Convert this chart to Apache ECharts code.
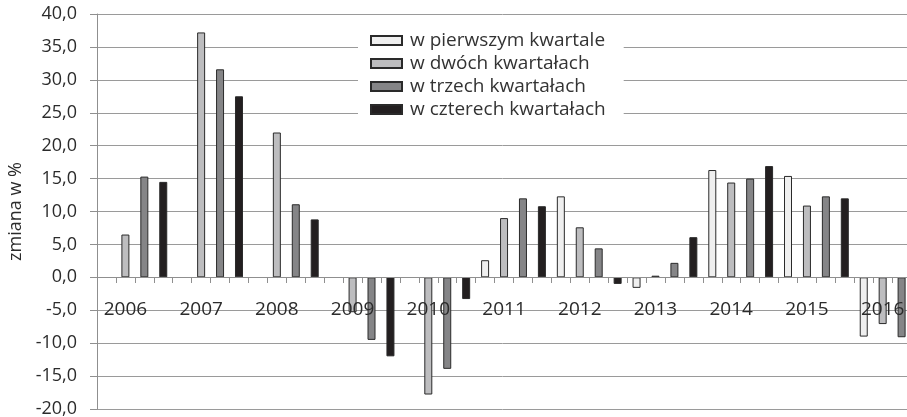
<!DOCTYPE html>
<html>
<head>
<meta charset="utf-8">
<script src="https://cdn.jsdelivr.net/npm/echarts@6/dist/echarts.min.js"></script>
<style>
  html, body { margin: 0; padding: 0; background: #fff; }
  #chart { width: 907px; height: 417px; }
</style>
</head>
<body>
<div id="chart"></div>
<script>
// lata (etykiety osi X), kazdy rok ma 4 pozycje kwartalne
const years = ['2006', '2007', '2008', '2009', '2010', '2011', '2012', '2013', '2014', '2015', '2016'];

// zmiana w % (null = brak slupka)
const inFirstQuarter = [null, null, null, null, null, 2.6, 12.3, -1.6, 16.3, 15.4, -9.0];
const inTwoQuarters = [6.5, 37.2, 22.0, -5.3, -17.8, 9.0, 7.6, 0.25, 14.4, 10.9, -7.1];
const inThreeQuarters = [15.3, 31.6, 11.1, -9.5, -13.9, 12.0, 4.4, 2.2, 15.0, 12.3, -9.1];
const inFourQuarters = [14.5, 27.5, 8.8, -12.0, -3.3, 10.8, -1.0, 6.1, 16.9, 12.0, null];

const seriesNames = ['w pierwszym kwartale', 'w dwóch kwartałach', 'w trzech kwartałach', 'w czterech kwartałach'];
const seriesColors = ['#efefef', '#bdbdbf', '#858587', '#231f20'];

// kategorie kwartalne: 4 na kazdy rok
const quarterCats = [];
years.forEach(y => { for (let q = 0; q < 4; q++) quarterCats.push(y); });

// kazda seria ma wartosc tylko na swojej pozycji kwartalnej
const toQuarterSlots = (values, q) => {
  const out = quarterCats.map(() => '-');
  values.forEach((v, i) => { if (v !== null) out[i * 4 + q] = v; });
  return out;
};

const allValues = [inFirstQuarter, inTwoQuarters, inThreeQuarters, inFourQuarters];

const chart = echarts.init(document.getElementById('chart'), null, { renderer: 'canvas' });

const textColor = '#2b2b2b';
const lineColor = '#8f8f8f';

// os X lezy na zerze: przesuniecie od dolnej krawedzi siatki (-20 -> 0)
const gridTop = 14, gridBottom = 8, chartH = 417;
const plotH = chartH - gridTop - gridBottom;
const zeroOffset = -Math.round(plotH * 20 / 60);

const option = {
  backgroundColor: '#ffffff',
  animation: false,
  textStyle: { fontFamily: 'Open Sans' },
  grid: { left: 97, right: -23, top: gridTop, bottom: gridBottom, containLabel: false, outerBoundsMode: 'none' },
  legend: {
    orient: 'vertical',
    left: 358,
    top: 27,
    padding: [4, 18, 6, 12],
    itemWidth: 31,
    itemHeight: 9,
    itemGap: 4,
    backgroundColor: '#ffffff',
    icon: 'rect',
    data: seriesNames,
    textStyle: { color: '#333', fontSize: 19, fontFamily: 'Open Sans', padding: [0, 0, 0, 3] }
  },
  xAxis: {
    type: 'category',
    data: quarterCats,
    z: 3,
    offset: zeroOffset,
    axisLine: { onZero: false, lineStyle: { color: lineColor, width: 1 } },
    axisTick: { show: true, interval: 0, length: 6, inside: false, lineStyle: { color: lineColor } },
    axisLabel: {
      interval: (i) => i % 4 === 1,
      margin: 23,
      fontSize: 19,
      color: textColor,
      fontFamily: 'Open Sans'
    },
    splitLine: { show: false }
  },
  yAxis: {
    type: 'value',
    min: -20,
    max: 40,
    interval: 5,
    name: 'zmiana w %',
    nameLocation: 'middle',
    nameRotate: 90,
    nameGap: 72,
    nameTextStyle: { fontSize: 18, color: textColor, fontFamily: 'Open Sans' },
    axisLine: { show: true, lineStyle: { color: lineColor, width: 1 } },
    axisTick: { show: true, length: 7, lineStyle: { color: lineColor } },
    axisLabel: {
      margin: 20,
      fontSize: 18,
      color: textColor,
      fontFamily: 'Open Sans',
      formatter: v => v.toFixed(1).replace('.', ',')
    },
    splitLine: { show: true, lineStyle: { color: '#9a9a9a', width: 1 } }
  },
  series: seriesNames.map((name, k) => ({
    name: name,
    type: 'bar',
    stack: 'q',
    barWidth: 8,
    itemStyle: { color: seriesColors[k], borderColor: '#2a2a2a', borderWidth: 1 },
    data: toQuarterSlots(allValues[k], k)
  }))
};

chart.setOption(option);
</script>
</body>
</html>
